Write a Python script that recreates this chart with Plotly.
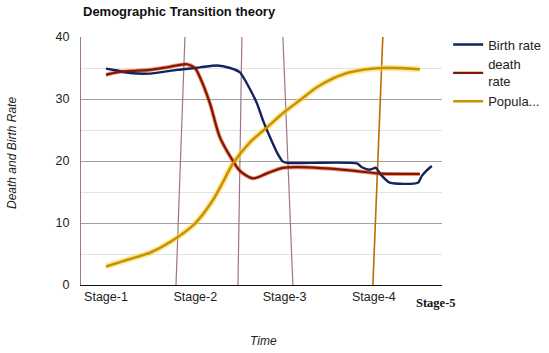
import plotly.graph_objects as go

# --- data (x in stage units: Stage-1 = 1 ... Stage-4 = 4) ---
stage_ticks = [1, 2, 3, 4]
stage_labels = ["Stage-1", "Stage-2", "Stage-3", "Stage-4"]

birth_x = [1.0, 1.123, 1.269, 1.493, 1.795, 2.052, 2.243, 2.39, 2.5, 2.578, 2.69, 2.757,
           2.835, 2.914, 2.981, 3.026, 3.3, 3.81, 3.866, 3.955, 4.022, 4.078, 4.179,
           4.493, 4.537, 4.593, 4.649]
birth_y = [34.9, 34.6, 34.2, 34.1, 34.7, 35.1, 35.4, 35.0, 34.3, 32.5, 29.3, 26.6,
           23.9, 21.4, 19.9, 19.7, 19.7, 19.6, 19.0, 18.6, 18.9, 17.8, 16.5,
           16.5, 17.6, 18.5, 19.2]

death_x = [1.0, 1.123, 1.269, 1.493, 1.716, 1.907, 1.996, 2.052, 2.164, 2.276, 2.422,
           2.5, 2.646, 2.802, 2.981, 3.172, 3.731, 4.045, 4.515]
death_y = [33.9, 34.3, 34.5, 34.7, 35.2, 35.6, 35.0, 33.5, 29.3, 23.8, 20.0,
           18.4, 17.2, 18.0, 18.9, 19.0, 18.5, 18.0, 17.9]

pop_x = [1.0, 1.269, 1.493, 1.716, 1.996, 2.198, 2.31, 2.422, 2.612, 2.802, 2.981,
         3.172, 3.362, 3.541, 3.731, 4.1, 4.515]
pop_y = [3.0, 4.2, 5.2, 6.9, 9.9, 13.7, 16.6, 19.6, 23.0, 25.4, 27.7,
         29.8, 31.9, 33.3, 34.3, 35.0, 34.8]

# hand-drawn stage boundary lines: (x at bottom, x at top)
bound_bottom = [1.784, 2.478, 3.093]
bound_top = [1.884, 2.522, 2.981]
orange_bottom = 3.989
orange_top = 4.1
y_span = [0, 40]

fig = go.Figure()

for xb, xt in zip(bound_bottom, bound_top):
    fig.add_trace(go.Scatter(x=[xb, xt], y=y_span, mode="lines",
                             line=dict(color="#a07585", width=1.2),
                             showlegend=False, hoverinfo="skip"))
fig.add_trace(go.Scatter(x=[orange_bottom, orange_top], y=y_span, mode="lines",
                         line=dict(color="#c06a00", width=1.6),
                         showlegend=False, hoverinfo="skip"))

# glow layers
fig.add_trace(go.Scatter(x=pop_x, y=pop_y, mode="lines",
                         line=dict(color="rgba(255,215,80,0.55)", width=6, shape="spline", smoothing=0.8),
                         showlegend=False, hoverinfo="skip"))
fig.add_trace(go.Scatter(x=death_x, y=death_y, mode="lines",
                         line=dict(color="rgba(235,70,30,0.6)", width=4, shape="spline", smoothing=0.8),
                         showlegend=False, hoverinfo="skip"))

fig.add_trace(go.Scatter(x=birth_x, y=birth_y, mode="lines", name="Birth rate",
                         line=dict(color="#13235e", width=2.4, shape="spline", smoothing=0.6)))
fig.add_trace(go.Scatter(x=death_x, y=death_y, mode="lines", name="death<br>rate",
                         line=dict(color="#7e1800", width=2.2, shape="spline", smoothing=0.8)))
fig.add_trace(go.Scatter(x=pop_x, y=pop_y, mode="lines", name="Popula...",
                         line=dict(color="#c99200", width=2.6, shape="spline", smoothing=0.8)))

fig.update_layout(
    width=549, height=353,
    margin=dict(l=81, r=107, t=37, b=68, autoexpand=False),
    paper_bgcolor="white", plot_bgcolor="white",
    font=dict(family="Liberation Sans, Arial, sans-serif", size=12, color="#222"),
    title=dict(text="<b>Demographic Transition theory</b>", x=83/549, xanchor="left",
               xref="container", y=1 - 11/353, yanchor="middle",
               font=dict(size=13, color="#111")),
    legend=dict(x=1.017, xanchor="left", y=1.03, yanchor="top",
                font=dict(size=13, color="#222"), bgcolor="rgba(0,0,0,0)",
                tracegroupgap=0, itemwidth=30),
    showlegend=True,
)

fig.update_xaxes(range=[0.72, 4.763], tickvals=stage_ticks, ticktext=stage_labels,
                 showgrid=False, zeroline=False, showline=True, linecolor="#111",
                 linewidth=1.2, ticks="", tickfont=dict(size=12.5, color="#222"))
fig.update_yaxes(range=[0, 40], dtick=10, showgrid=True, gridcolor="#a0a0a0",
                 gridwidth=1, zeroline=False, showline=True, linecolor="#a07585",
                 linewidth=1.2, ticks="", ticklabelstandoff=8,
                 tickfont=dict(size=12.5, color="#222"),
                 minor=dict(dtick=5, showgrid=True, gridcolor="#e2e2e2", gridwidth=1))

fig.add_annotation(text="<i>Death and Birth Rate</i>", xref="paper", yref="paper",
                   x=-(81 - 12) / 361, y=(285 - 153) / 248, textangle=-90,
                   showarrow=False, font=dict(size=12, color="#222"),
                   xanchor="center", yanchor="middle")
fig.add_annotation(text="<i>Time</i>", xref="paper", yref="paper",
                   x=(263 - 81) / 361, y=-(341 - 285) / 248, showarrow=False,
                   font=dict(size=12, color="#222"), xanchor="center", yanchor="middle")
fig.add_annotation(text="<b>Stage-5</b>", xref="paper", yref="paper",
                   x=(436 - 81) / 361, y=-(303 - 285) / 248, showarrow=False,
                   font=dict(size=12.5, family="Liberation Serif, Times New Roman, serif", color="#111"),
                   xanchor="center", yanchor="middle")

fig.write_html("out.html")
